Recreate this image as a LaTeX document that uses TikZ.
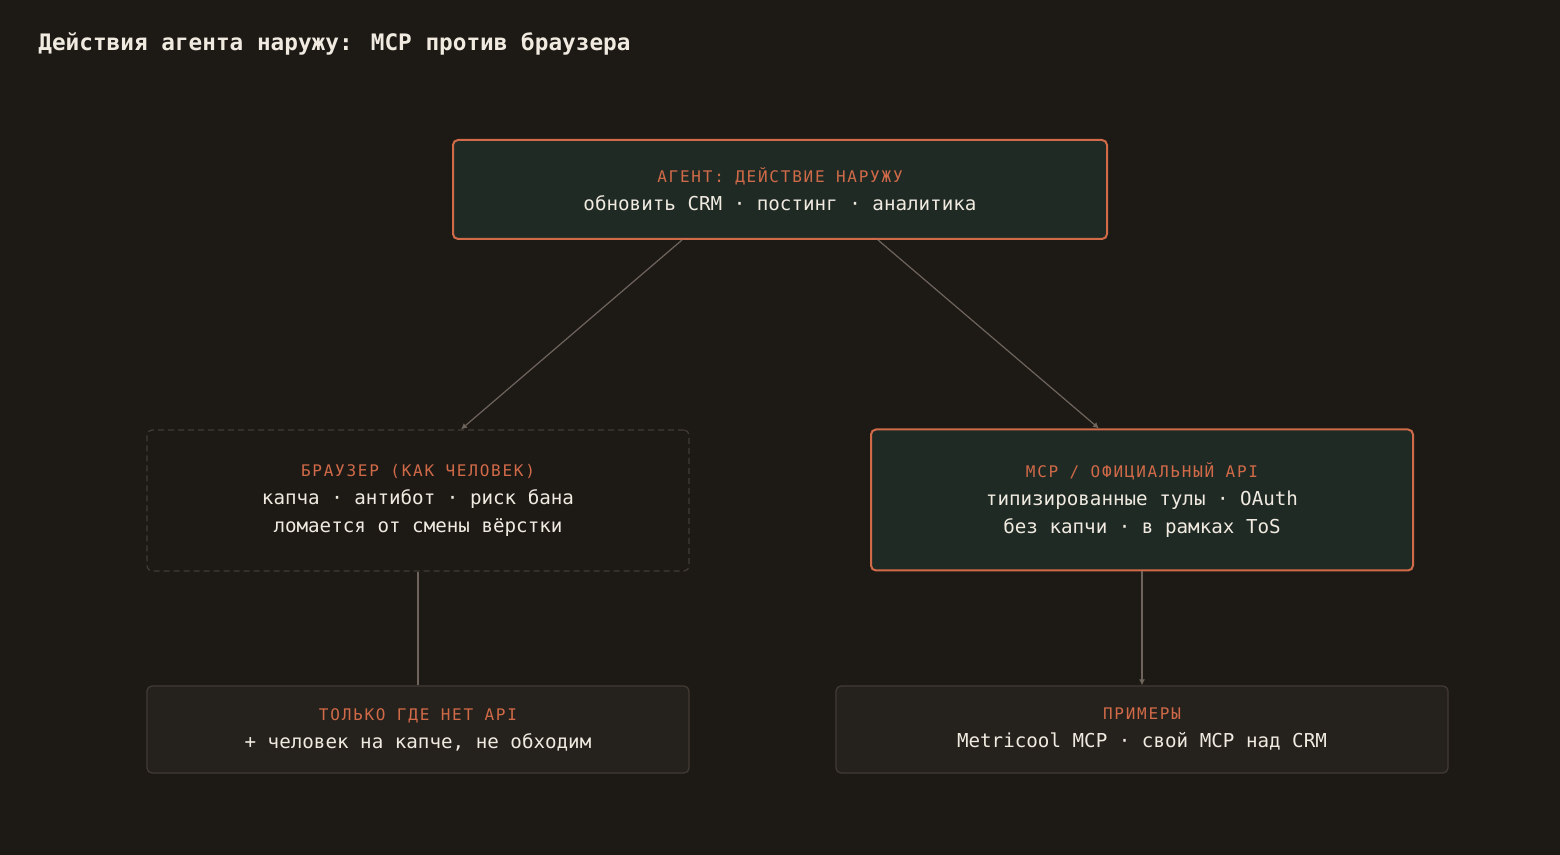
\documentclass[tikz,border=0pt]{standalone}
\usepackage{fontspec}
\setmainfont{DejaVu Sans Mono}
\setmonofont{DejaVu Sans Mono}
\newfontfamily\capsfont[LetterSpace=11]{DejaVu Sans Mono}
\usetikzlibrary{arrows.meta, calc}

\definecolor{bg}{HTML}{1D1A16}
\definecolor{pine}{HTML}{1F2A25}
\definecolor{coal}{HTML}{25211C}
\definecolor{rust}{HTML}{D06A48}
\definecolor{ash}{HTML}{433B34}
\definecolor{wire}{HTML}{6E645B}
\definecolor{ink}{HTML}{F0EAE0}

\newcommand\bodyfont{\fontsize{9.6}{14}\selectfont}
\newcommand\boxtag[1]{{\capsfont\fontsize{8}{14}\selectfont\color{rust}#1}}

\begin{document}
\begin{tikzpicture}[
  x=0.5pt, y=-0.5pt,
  box/.style={rounded corners=2.5pt, align=center, inner sep=0pt, font=\bodyfont, text=ink},
  hot/.style={box, draw=rust, line width=1pt, fill=pine},
  quiet/.style={box, draw=ash, line width=0.6pt, fill=coal},
  ghost/.style={box, draw=ash, dash pattern=on 3pt off 2pt, line width=0.6pt},
  link/.style={draw=wire, line width=0.6pt},
  arr/.style={link, -{Latex[length=3pt, width=3pt]}}
]
\def\lx{418}
\def\rx{1142}

% canvas
\fill[bg] (0,0) rectangle (1560,855);

\node[anchor=base west, inner sep=0pt, text=ink, font=\bfseries\fontsize{11.35}{14}\selectfont] (title) at (38,51)
  {Действия агента наружу: MCP против браузера};

% top
\node[hot, minimum width=327pt, minimum height=49.5pt] (agent) at (780,189.5)
  {\boxtag{АГЕНТ: ДЕЙСТВИЕ НАРУЖУ}\\обновить CRM · постинг · аналитика};

% two ways
\node[ghost, minimum width=271pt, minimum height=70.5pt] (browser) at (\lx,500.5)
  {\boxtag{БРАУЗЕР (КАК ЧЕЛОВЕК)}\\капча · антибот · риск бана\\ломается от смены вёрстки};
\node[hot, minimum width=271pt, minimum height=70.5pt] (mcp) at (\rx,500)
  {\boxtag{MCP / ОФИЦИАЛЬНЫЙ API}\\типизированные тулы · OAuth\\без капчи · в рамках ToS};

% bottom
\node[quiet, minimum width=271pt, minimum height=43.5pt] (fallback) at (\lx,729.5)
  {\boxtag{ТОЛЬКО ГДЕ НЕТ API}\\+ человек на капче, не обходим};
\node[quiet, minimum width=306pt, minimum height=43.5pt] (examples) at (\rx,729.5)
  {\boxtag{ПРИМЕРЫ}\\Metricool MCP · свой MCP над CRM};

\draw[arr] ([xshift=-49pt]agent.south) -- ([xshift=21.5pt]browser.north);
\draw[arr] ([xshift=49pt]agent.south) -- ([xshift=-21.5pt]mcp.north);
\draw[link] (browser.south) -- (fallback.north);
\draw[arr] (mcp.south) -- (examples.north);

\end{tikzpicture}
\end{document}
